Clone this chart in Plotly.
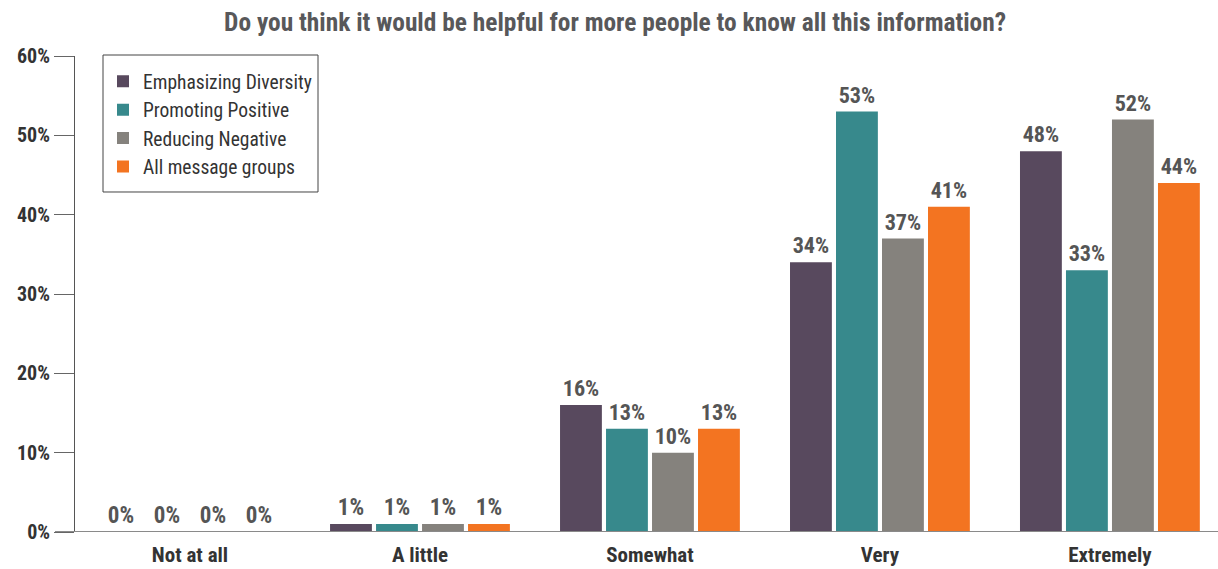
import plotly.graph_objects as go

categories = ["Not at all", "A little", "Somewhat", "Very", "Extremely"]
emphasizing_diversity = [0, 1, 16, 34, 48]
promoting_positive = [0, 1, 13, 53, 33]
reducing_negative = [0, 1, 10, 37, 52]
all_message_groups = [0, 1, 13, 41, 44]

series = [
    ("Emphasizing Diversity", emphasizing_diversity, "#58495E"),
    ("Promoting Positive", promoting_positive, "#37898C"),
    ("Reducing Negative", reducing_negative, "#85827D"),
    ("All message groups", all_message_groups, "#F37421"),
]

FONT = "Roboto, 'Open Sans', sans-serif"

fig = go.Figure()
for name, vals, color in series:
    fig.add_trace(go.Bar(
        x=categories, y=vals, name=name,
        marker=dict(color=color, line=dict(width=0)),
        text=[f"{v}%" for v in vals],
        textposition="outside",
        textfont=dict(family=FONT, size=23, color="#555555", weight="bold"),
        cliponaxis=False,
    ))

fig.update_layout(
    width=1218, height=569,
    margin=dict(l=75, r=0, t=56, b=37),
    paper_bgcolor="white", plot_bgcolor="white",
    barmode="group", bargap=0.2, bargroupgap=0.09,
    title=dict(text="Do you think it would be helpful for more people to know all this information?",
               x=0.505, xanchor="center", y=0.962, yanchor="middle",
               font=dict(family=FONT, size=25.4, color="#58585A", weight="bold")),
    legend=dict(x=0.0245, y=0.987, xanchor="left", yanchor="top",
                bgcolor="rgba(0,0,0,0)", borderwidth=0,
                font=dict(family=FONT, size=19.5, color="#333333"),
                itemwidth=30, traceorder="normal"),
    font=dict(family=FONT),
)
fig.update_xaxes(range=[-0.5, 4.47], showline=False, ticks="", ticklabelstandoff=8,
                 tickfont=dict(family=FONT, size=21, color="#333333", weight="bold"))
fig.update_yaxes(range=[0, 60], dtick=10, ticksuffix="%", showgrid=False, zeroline=False,
                 showline=True, linecolor="#555555", linewidth=1,
                 ticks="outside", ticklen=20, tickcolor="#666666",
                 tickfont=dict(family=FONT, size=20, color="#333333", weight="bold"))

# Baseline extending past the y-axis tick marks
fig.add_shape(type="line", xref="paper", yref="y", x0=-0.0175, x1=1, y0=0, y1=0,
              line=dict(color="#8a8a8a", width=2), layer="above")

# Frame around the legend entries
fig.add_shape(type="rect", xref="paper", yref="paper",
              x0=0.0245, x1=0.2126, y0=0.7143, y1=1.0021,
              line=dict(color="#444444", width=1), fillcolor="white", layer="below")

# Condensed letterforms (Roboto width axis), then redraw so text boxes are re-measured
post = (
    "var s=document.createElement('style');"
    "s.textContent='.js-plotly-plot svg text{font-stretch:75% !important;}';"
    "document.head.appendChild(s);"
    "var gd=document.getElementById('{plot_id}');"
    "Plotly.redraw(gd);"
)
fig.write_html("out.html", post_script=post)
